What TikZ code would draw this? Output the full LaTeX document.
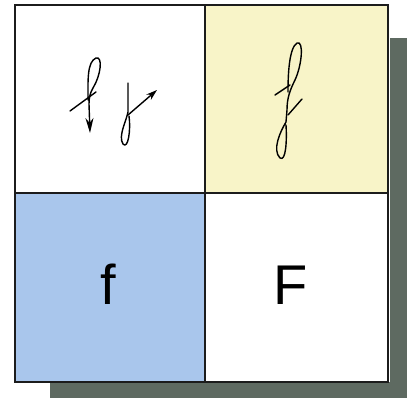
\documentclass[tikz,border=0pt]{standalone}
\usepackage{fontspec}
\setmainfont{Liberation Sans}
\usetikzlibrary{arrows.meta}
\definecolor{shadowc}{HTML}{5E6A61}
\definecolor{yellowc}{HTML}{F8F4C8}
\definecolor{bluec}{HTML}{A9C6EC}
\definecolor{linec}{HTML}{1C1C1C}
\tikzset{
  cell/.style={draw=linec, line width=1.3pt},
  script/.style={draw=black, line width=1.4pt, line cap=round, line join=round},
  bigletter/.style={font=\fontsize{56}{56}\selectfont, anchor=base, inner sep=0pt}
}
\begin{document}
\begin{tikzpicture}[x=1pt,y=-1pt]
\useasboundingbox (0,0) rectangle (418,403);
\fill[white] (0,0) rectangle (418,403);
% shadow
\fill[shadowc] (390,38) rectangle (407,398);
\fill[shadowc] (50,382) rectangle (407,398);
% cells
\path[fill=white] (15,5) rectangle (205,193);
\path[fill=yellowc] (205,5) rectangle (388,193);
\path[fill=bluec] (15,193) rectangle (205,382);
\path[fill=white] (205,193) rectangle (388,382);
\draw[cell] (15,5) rectangle (388,382);
\draw[cell] (205,5) -- (205,382);
\draw[cell] (15,193) -- (388,193);
% letters
\node[bigletter] (lf) at (108,305) {f};
\node[bigletter] (uf) at (291,305) {F};
% handwritten f with downward arrow
\draw[script, -{Stealth[length=15pt,width=8pt]}]
  (88,100) .. controls (88,80) and (87,62) .. (96,58)
  .. controls (103,56) and (101,75) .. (93,88)
  .. controls (90,93) and (89,98) .. (89,104) -- (90,133);
\draw[script] (70,111) -- (96,92);
% handwritten f with ascending arrow
\draw[script] (128,83) -- (128,112)
  .. controls (126,122) and (118,136) .. (123,144)
  .. controls (128,150) and (131,130) .. (129,116);
\draw[script, -{Stealth[length=11pt,width=7pt]}] (128,115) -- (157,90);
% yellow cell f
\draw[script]
  (288,92) .. controls (288,75) and (289,48) .. (297,43)
  .. controls (304,40) and (302,65) .. (295,80)
  .. controls (290,90) and (287,98) .. (287,110)
  -- (286,122)
  .. controls (280,132) and (272,150) .. (280,158)
  .. controls (286,162) and (287,140) .. (286,125);
\draw[script] (275,95) -- (290,85);
\draw[script] (288,115) -- (302,99);
\end{tikzpicture}
\end{document}
